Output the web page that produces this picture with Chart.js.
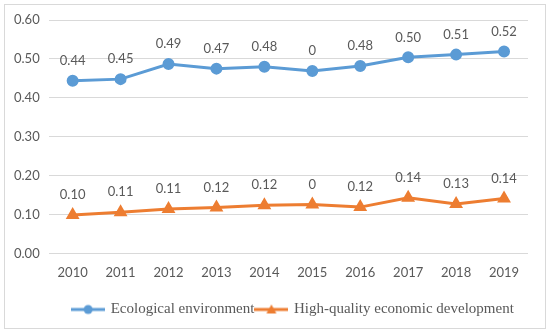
<!DOCTYPE html>
<html>
<head>
<meta charset="utf-8">
<script src="https://cdn.jsdelivr.net/npm/chart.js@4/dist/chart.umd.min.js"></script>
<style>
  body { margin: 0; background: #fff; }
  #frame { position: absolute; left: 4px; top: 4px; width: 540px; height: 323px; border: 1px solid #d9d9d9; }
  #wrap { position: absolute; left: 0; top: 0; width: 550px; height: 335px; }
</style>
</head>
<body>
<div id="frame"></div>
<div id="wrap"><canvas id="lineChart"></canvas></div>
<script>
var years = ['2010', '2011', '2012', '2013', '2014', '2015', '2016', '2017', '2018', '2019'];
var ecological = [0.444, 0.448, 0.487, 0.475, 0.480, 0.469, 0.482, 0.504, 0.511, 0.519];
var economic = [0.099, 0.106, 0.114, 0.118, 0.124, 0.126, 0.119, 0.143, 0.127, 0.141];
// labels as printed in the figure
var ecologicalLabels = ['0.44', '0.45', '0.49', '0.47', '0.48', '0', '0.48', '0.50', '0.51', '0.52'];
var economicLabels = ['0.10', '0.11', '0.11', '0.12', '0.12', '0', '0.12', '0.14', '0.13', '0.14'];
var yTicks = [0, 0.1, 0.2, 0.3, 0.4, 0.5, 0.6];

var blue = '#5b9bd5';
var orange = '#ed7d31';
var grey = '#595959';

function legendIcon(color, shape) {
    var c = document.createElement('canvas');
    c.width = 34; c.height = 12;
    var ctx = c.getContext('2d');
    ctx.strokeStyle = color;
    ctx.fillStyle = color;
    ctx.lineWidth = 3;
    ctx.beginPath();
    ctx.moveTo(0, 6); ctx.lineTo(34, 6);
    ctx.stroke();
    ctx.beginPath();
    if (shape == 'circle') {
        ctx.arc(17, 6, 4.5, 0, Math.PI * 2);
    } else {
        ctx.moveTo(17, 1); ctx.lineTo(22, 10); ctx.lineTo(12, 10); ctx.closePath();
    }
    ctx.fill();
    return c;
}

var valueLabels = {
    id: 'valueLabels',
    afterLayout: function(chart) {
        // legend in the original sits right of centre
        chart.legend.left += 27;
        chart.legend.right += 27;
    },
    afterDatasetsDraw: function(chart) {
        var ctx = chart.ctx;
        var sets = [ecologicalLabels, economicLabels];
        ctx.save();
        ctx.font = '13px Lato';
        ctx.fillStyle = grey;
        ctx.textAlign = 'center';
        ctx.textBaseline = 'middle';
        chart.data.datasets.forEach(function(ds, i) {
            chart.getDatasetMeta(i).data.forEach(function(pt, j) {
                ctx.fillText(sets[i][j], pt.x, pt.y - 20);
            });
        });
        ctx.restore();
    }
};

new Chart(document.getElementById('lineChart'), {
    type: 'line',
    data: {
        labels: years,
        datasets: [{
            label: 'Ecological environment',
            data: ecological,
            borderColor: blue,
            backgroundColor: blue,
            borderWidth: 3,
            pointStyle: 'circle',
            pointRadius: 4.5,
            pointHoverRadius: 4.5,
            tension: 0
        }, {
            label: 'High-quality economic development',
            data: economic,
            borderColor: orange,
            backgroundColor: orange,
            borderWidth: 3,
            pointStyle: 'triangle',
            pointRadius: 5,
            pointHoverRadius: 5,
            tension: 0
        }]
    },
    options: {
        responsive: true,
        maintainAspectRatio: false,
        animation: false,
        layout: { padding: { left: 5, right: 22, top: 20, bottom: 8 } },
        scales: {
            x: {
                offset: true,
                grid: { display: false },
                border: { display: false },
                ticks: { color: grey, font: { family: 'Lato', size: 13 }, padding: 4 },
                afterFit: function(axis) { axis.height += 15; }
            },
            y: {
                min: 0,
                max: 0.6,
                afterBuildTicks: function(axis) {
                    axis.ticks = yTicks.map(function(v) { return { value: v }; });
                },
                grid: { color: '#d9d9d9', lineWidth: 1, drawTicks: false },
                border: { display: false },
                ticks: {
                    color: grey,
                    font: { family: 'Lato', size: 13 },
                    padding: 9,
                    callback: function(v) { return Number(v).toFixed(2); }
                }
            }
        },
        plugins: {
            tooltip: { enabled: false },
            legend: {
                position: 'bottom',
                labels: {
                    color: grey,
                    font: { family: 'Liberation Serif', size: 15 },
                    padding: 2,
                    usePointStyle: true,
                    pointStyleWidth: 30,
                    generateLabels: function(chart) {
                        return chart.data.datasets.map(function(ds, i) {
                            return {
                                text: ds.label,
                                pointStyle: legendIcon(ds.borderColor, i == 0 ? 'circle' : 'triangle'),
                                fontColor: grey,
                                datasetIndex: i,
                                lineWidth: 0
                            };
                        });
                    }
                }
            }
        }
    },
    plugins: [valueLabels]
});
</script>
</body>
</html>
